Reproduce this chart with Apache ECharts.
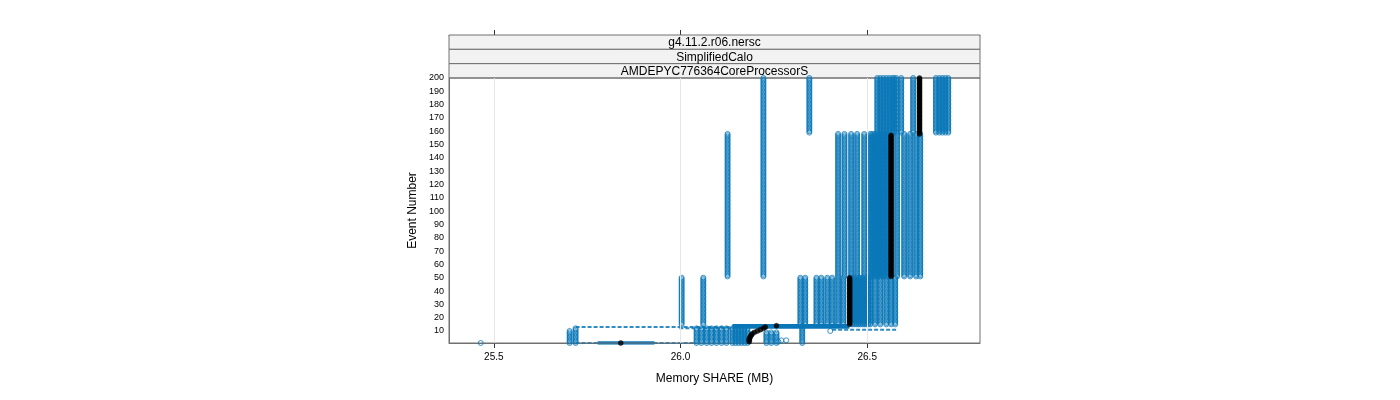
<!DOCTYPE html>
<html>
<head>
<meta charset="utf-8">
<script src="https://cdn.jsdelivr.net/npm/echarts@6/dist/echarts.min.js"></script>
<style>html,body{margin:0;padding:0;background:#fff}#c{width:1400px;height:400px}</style>
</head>
<body>
<div id="c"></div>
<script>
// ---------------- data ----------------
const stripLabels = ['g4.11.2.r06.nersc', 'SimplifiedCalo', 'AMDEPYC776364CoreProcessorS'];
const xTicks = [25.5, 26.0, 26.5];
const xTickLabels = ['25.5', '26.0', '26.5'];
const yTicks = [10,20,30,40,50,60,70,80,90,100,110,120,130,140,150,160,170,180,190,200];
const xTitle = 'Memory SHARE (MB)';
const yTitle = 'Event Number';

// blue runs: memory (MB) held constant over [first event, last event]
const blueRuns = [
  [26.345,159,200],
  [26.527,159,200],[26.535,159,200],[26.543,159,200],[26.551,159,200],[26.559,159,200],
  [26.567,159,200],[26.572,159,200],[26.578,159,200],[26.591,159,200],[26.623,159,200],
  [26.684,159,200],[26.693,159,200],[26.701,159,200],[26.709,159,200],[26.717,159,200],
  [26.222,51,200],
  [26.126,51,158],
  [26.422,51,158],[26.439,51,158],[26.457,51,158],[26.473,51,158],[26.492,51,158],
  [26.508,51,158],[26.513,51,158],[26.519,51,158],[26.524,51,158],[26.529,51,158],
  [26.535,51,158],[26.540,51,158],[26.545,51,158],[26.551,51,158],[26.556,51,158],
  [26.580,51,158],[26.599,51,158],[26.615,51,158],[26.631,51,158],[26.642,51,158],
  [26.003,15,50],[26.061,15,50],[26.321,15,50],[26.334,15,50],
  [26.364,15,50],[26.377,15,50],[26.393,15,50],[26.406,15,50],[26.422,15,50],[26.436,15,50],
  [26.460,15,50],[26.465,15,50],[26.471,15,50],[26.476,15,50],[26.481,15,50],
  [26.487,15,50],[26.492,15,50],[26.497,15,50],[26.503,15,50],[26.508,15,50],
  [26.521,15,50],[26.535,15,50],[26.551,15,50],[26.564,15,50],[26.575,15,50],
  [25.703,1,10],[25.719,1,12],
  [26.043,1,12],[26.056,1,12],[26.070,1,12],[26.083,1,12],[26.096,1,12],[26.110,1,12],[26.123,1,12],
  [26.139,1,12],[26.147,1,12],[26.155,1,12],[26.163,1,12],[26.171,1,12],[26.179,1,12],
  [26.230,1,9],[26.243,1,9],[26.257,1,9],
  [26.326,1,14]
];
const blueSingles = [[25.465,1],[26.401,10],[26.262,2],[26.270,3],[26.283,3]];
// rows of many runs at one event: [event, from MB, to MB]
const blueRowsDashed = [[13,25.719,26.139],[1,25.719,26.043],[12,25.997,26.139],[11,26.406,26.578]];
const blueRowsSolid = [[1,25.778,25.930],[13,26.139,26.452],[14,26.139,26.452]];
// highlighted (black) run
const blackPoints = [[25.840,1],[26.184,2],[26.184,3],[26.184,4],[26.186,5],[26.187,6],[26.190,7],
  [26.192,8],[26.198,9],[26.206,10],[26.214,11],[26.222,12],[26.227,13],[26.257,14]];
const blackRuns = [[26.453,15,50],[26.564,51,157],[26.640,158,200]];

// ---------------- build ----------------
const BLUE = '#0a77b8';
const FONT = 'Liberation Sans, Arial, sans-serif';
function expand(runs) {
  const out = [];
  runs.forEach(r => { for (let e = r[1]; e <= r[2]; e++) out.push([r[0], e]); });
  return out;
}
const blueData = expand(blueRuns).concat(blueSingles);
const blackData = blackPoints.concat(expand(blackRuns));

const series = [];
series.push({
  type: 'line', xAxisIndex: 0, yAxisIndex: 0, data: [], silent: true, z: 1,
  markLine: { silent: true, symbol: 'none', label: {show: false},
    lineStyle: {color: '#e6e6e6', width: 1, type: 'solid'},
    data: xTicks.map(v => ({xAxis: v})) }
});
blueRowsDashed.forEach(r => series.push({
  type: 'line', data: [[r[1], r[0]], [r[2], r[0]]], symbol: 'none', silent: true, z: 2,
  lineStyle: {color: BLUE, width: 2, type: [4, 2], opacity: 0.85}
}));
blueRowsSolid.forEach(r => series.push({
  type: 'line', data: [[r[1], r[0]], [r[2], r[0]]], symbol: 'none', silent: true, z: 2,
  lineStyle: {color: BLUE, width: 3.5, type: 'solid'}
}));
series.push({
  type: 'scatter', data: blueData, symbol: 'circle', symbolSize: 5, z: 3,
  progressive: 0, large: false,
  itemStyle: {color: 'rgba(255,255,255,0)', borderColor: BLUE, borderWidth: 0.8, opacity: 1}
});
series.push({
  type: 'scatter', data: blackData, symbol: 'circle', symbolSize: 5, z: 4,
  progressive: 0,
  itemStyle: {color: '#000', borderColor: '#000', borderWidth: 0.5}
});

const L = 449, R = 980, T = 78, B = 343, ST = 35;
const stripH = (T - ST) / 3;
const graphics = [];
stripLabels.forEach((s, i) => {
  graphics.push({type: 'rect', shape: {x: L, y: ST + i * stripH, width: R - L, height: stripH},
    style: {fill: '#f2f2f2', stroke: '#707070', lineWidth: 1}, z: 10});
  graphics.push({type: 'text', x: (L + R) / 2, y: ST + i * stripH + stripH / 2 + 1,
    style: {text: s, font: '12px ' + FONT, fill: '#000', align: 'center', verticalAlign: 'middle'}, z: 11});
});
graphics.push({type: 'rect', shape: {x: L, y: T, width: R - L, height: B - T},
  style: {fill: 'none', stroke: '#707070', lineWidth: 1}, z: 20, silent: true});

const option = {
  animation: false,
  backgroundColor: '#fff',
  textStyle: {fontFamily: FONT},
  grid: [
    {left: L, top: T, width: R - L, height: B - T},
    {left: L, top: ST, width: R - L, height: T - ST}
  ],
  xAxis: [
    {type: 'value', gridIndex: 0, min: 25.38, max: 26.802, position: 'bottom',
      axisLine: {show: true, lineStyle: {color: '#707070'}},
      axisTick: {show: true, length: 5, customValues: xTicks, lineStyle: {color: '#333'}},
      axisLabel: {show: true, customValues: xTicks, formatter: v => xTickLabels[xTicks.findIndex(t => Math.abs(t - v) < 1e-9)] ?? '',
        fontSize: 10, color: '#000', margin: 9, fontFamily: FONT},
      splitLine: {show: false},
      name: xTitle, nameLocation: 'middle', nameGap: 30,
      nameTextStyle: {fontSize: 12, color: '#000', fontFamily: FONT}},
    {type: 'value', gridIndex: 1, min: 25.38, max: 26.802, position: 'top', show: true,
      axisLine: {show: true, onZero: false, lineStyle: {color: '#707070'}},
      axisTick: {show: true, length: 5, customValues: xTicks, lineStyle: {color: '#333'}},
      axisLabel: {show: true, customValues: xTicks, formatter: () => '', color: 'rgba(0,0,0,0)'},
      splitLine: {show: false}}
  ],
  yAxis: [
    {type: 'value', gridIndex: 0, min: 1, max: 200,
      axisLine: {show: true, lineStyle: {color: '#707070'}},
      axisTick: {show: false},
      axisLabel: {show: true, customValues: yTicks, fontSize: 9, color: '#000', margin: 5, fontFamily: FONT},
      splitLine: {show: false},
      name: yTitle, nameLocation: 'middle', nameGap: 30, nameRotate: 90,
      nameTextStyle: {fontSize: 12, color: '#000', fontFamily: FONT}},
    {type: 'value', gridIndex: 1, min: 0, max: 1, show: false}
  ],
  series: series,
  graphic: graphics
};
const chart = echarts.init(document.getElementById('c'), null, {renderer: 'canvas'});
chart.setOption(option);
</script>
</body>
</html>
